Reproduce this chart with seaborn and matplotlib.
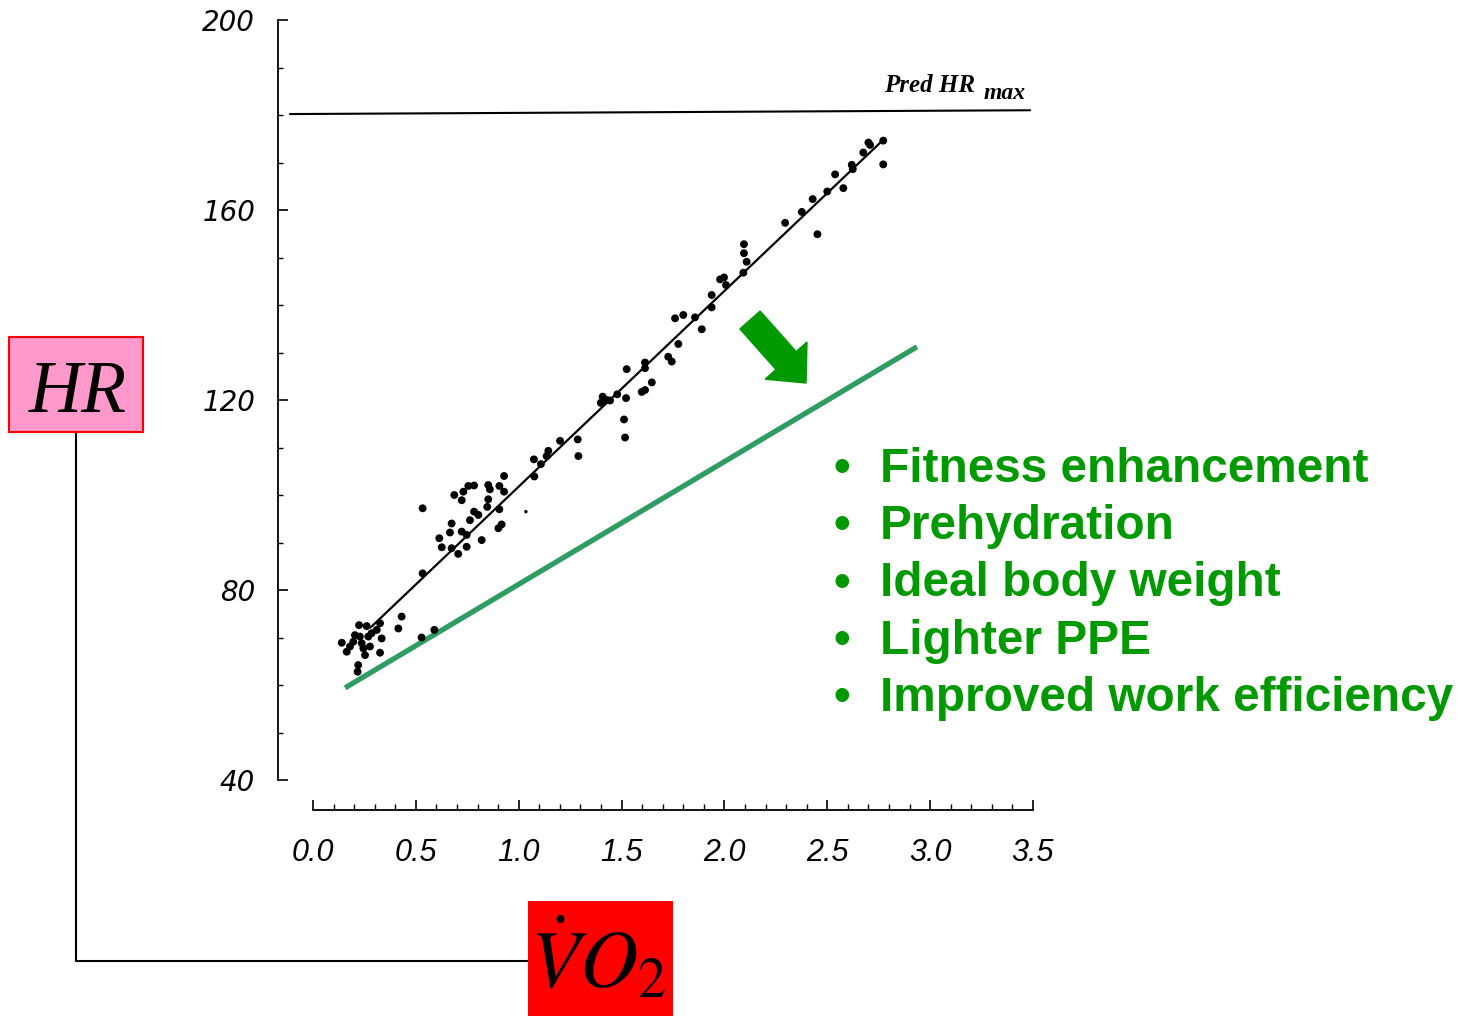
import matplotlib
matplotlib.use("Agg")
import matplotlib.pyplot as plt
from matplotlib.patches import Rectangle, FancyArrow
from matplotlib.lines import Line2D
from matplotlib.transforms import IdentityTransform
from matplotlib.ticker import FixedLocator
import seaborn as sns
import numpy as np
import pandas as pd

# VO2 (L/min) vs heart rate
vo2 = [0.14, 0.224, 0.261, 0.204, 0.228, 0.196, 0.18, 0.164, 0.237, 0.245, 0.277, 0.285,
       0.31, 0.326, 0.334, 0.269, 0.253, 0.326, 0.22, 0.217, 0.431, 0.415, 0.528, 0.59,
       0.533, 0.533, 0.614, 0.626, 0.674, 0.666, 0.674, 0.706, 0.687, 0.723, 0.731, 0.755,
       0.783, 0.723, 0.747, 0.747, 0.763, 0.783, 0.804, 0.82, 0.852, 0.86, 0.852, 0.847,
       0.906, 0.906, 0.929, 0.929, 0.901, 0.917,
       1.076, 1.074, 1.108, 1.136, 1.144, 1.201, 1.287, 1.29, 1.408, 1.399, 1.428, 1.444,
       1.479, 1.522, 1.512, 1.517, 1.525, 1.614, 1.614, 1.598, 1.614, 1.647, 1.727, 1.744, 1.776,
       1.76, 1.8, 1.857, 1.89, 1.938, 1.938, 1.979, 1.998, 2.008, 2.092, 2.108, 2.095, 2.095,
       2.295, 2.376, 2.429, 2.452, 2.5, 2.538, 2.578, 2.619, 2.624, 2.675, 2.7, 2.708, 2.772, 2.772]
hr = [68.9, 72.6, 72.4, 70.5, 70.2, 69.1, 68.1, 67.0, 68.8, 67.7, 68.1, 70.9,
      71.6, 73.0, 69.8, 70.2, 66.3, 66.8, 64.2, 62.8, 74.4, 71.9, 70.0, 71.6,
      97.2, 83.5, 90.9, 89.0, 94.0, 92.1, 88.8, 87.6, 100.0, 98.9, 100.7, 101.9,
      102.0, 92.3, 91.6, 89.1, 94.7, 96.5, 95.8, 90.5, 102.1, 101.2, 99.1, 97.5,
      97.0, 101.9, 104.0, 100.7, 93.0, 93.8,
      103.9, 107.5, 106.5, 108.2, 109.3, 111.4, 111.7, 108.2, 120.7, 119.4, 120.0, 119.9,
      121.2, 120.4, 115.9, 112.1, 126.5, 127.9, 126.7, 121.7, 122.1, 123.7, 129.1, 128.1, 131.8,
      137.2, 137.9, 137.4, 134.9, 142.1, 139.5, 145.4, 145.8, 144.2, 146.8, 149.1, 150.9, 152.8,
      157.3, 159.6, 162.3, 154.9, 163.9, 167.5, 164.6, 169.5, 168.6, 172.1, 174.2, 173.7, 174.6, 169.6]
stray_vo2 = [1.035]
stray_hr = [96.5]

fit_vo2 = [0.28, 2.78]
fit_hr = [72.1, 175.1]

pred_max_vo2 = [-0.112, 3.486]
pred_max_hr = [180.2, 181.0]

improved_vo2 = [0.156, 2.936]
improved_hr = [59.4, 131.2]

bullets = ["Fitness enhancement", "Prehydration", "Ideal body weight",
           "Lighter PPE", "Improved work efficiency"]

y_ticks = [40, 80, 120, 160, 200]
x_ticks = [0.0, 0.5, 1.0, 1.5, 2.0, 2.5, 3.0, 3.5]

df = pd.DataFrame({"vo2": vo2, "hr": hr})

sns.set_theme(style="ticks")
plt.rcParams["font.family"] = ["Liberation Sans", "DejaVu Sans"]
plt.rcParams["mathtext.fontset"] = "stix"
plt.rcParams["text.color"] = "black"
plt.rcParams["xtick.color"] = "black"
plt.rcParams["ytick.color"] = "black"

W, H = 1468, 1016
fig = plt.figure(figsize=(W / 100, H / 100), dpi=100)
fig.patch.set_facecolor("white")
ax = fig.add_axes([278 / W, 1 - 780 / H, (1040 - 278) / W, (780 - 20) / H])
ax.set_facecolor("white")

sns.scatterplot(data=df, x="vo2", y="hr", ax=ax, color="black", s=32,
                edgecolor="none", clip_on=False, zorder=3)
sns.scatterplot(x=stray_vo2, y=stray_hr, ax=ax, color="black", s=6,
                edgecolor="none", zorder=3)
sns.lineplot(x=fit_vo2, y=fit_hr, ax=ax, color="black", lw=1.6,
             sort=False, estimator=None, zorder=2)
sns.lineplot(x=pred_max_vo2, y=pred_max_hr, ax=ax, color="black", lw=1.5,
             sort=False, estimator=None, clip_on=False)
sns.lineplot(x=improved_vo2, y=improved_hr, ax=ax, color="#2E9C63", lw=3.8,
             sort=False, estimator=None, solid_capstyle="butt")

ax.text(2.776, 184.8, "Pred HR", fontfamily="Liberation Serif", style="italic",
        fontweight="bold", fontsize=18, va="baseline", color="black")
ax.text(3.262, 183.3, "max", fontfamily="Liberation Serif", style="italic",
        fontweight="bold", fontsize=17, va="baseline", color="black")

ax.set_xlim(-0.170, 3.534)
ax.set_ylim(40, 200)
ax.set_xlabel("")
ax.set_ylabel("")
for side in ["top", "right"]:
    ax.spines[side].set_visible(False)
ax.spines["left"].set_bounds(40, 200)
ax.spines["bottom"].set_position(("outward", 21.6))
ax.spines["bottom"].set_bounds(0, 3.5)
for side in ["left", "bottom"]:
    ax.spines[side].set_color("black")
    ax.spines[side].set_linewidth(1.3)

ax.set_yticks(y_ticks)
ax.set_yticklabels([str(v) for v in y_ticks], fontfamily="DejaVu Sans",
                   style="italic", fontsize=20, color="black")
ax.set_xticks(x_ticks)
ax.set_xticklabels([f"{v:.1f}" for v in x_ticks], fontfamily="Liberation Sans",
                   style="italic", fontsize=22, color="black")
ax.yaxis.set_minor_locator(FixedLocator(np.arange(50, 200, 10)))
ax.xaxis.set_minor_locator(FixedLocator(np.round(np.arange(0.1, 3.5, 0.1), 1)))
ax.tick_params(axis="y", which="major", direction="in", length=7, width=1.2,
               pad=16.5, colors="black")
ax.tick_params(axis="y", which="minor", direction="in", length=3.5, width=1)
ax.tick_params(axis="x", which="major", direction="in", length=7, width=1.2,
               pad=20, colors="black")
ax.tick_params(axis="x", which="minor", direction="in", length=4, width=1)

# annotations placed in pixel space
pix = IdentityTransform()


def py(y):
    return H - y


fig.add_artist(Line2D([76, 76, 528], [py(432), py(961), py(961)], color="black",
                      lw=1.5, transform=pix, zorder=1))
fig.add_artist(Rectangle((9, py(432)), 134, 95, facecolor="#FF99CC",
                         edgecolor="red", lw=1.5, transform=pix, zorder=2))
fig.text(78, py(412), "HR", fontfamily="Liberation Serif", style="italic",
         fontsize=53, ha="center", va="baseline", color="black",
         transform=pix, zorder=3)
fig.add_artist(Rectangle((528, 0), 145, 115, facecolor="red", edgecolor="none",
                         transform=pix, zorder=2))
fig.text(598, py(987), r"$\dot{V}O_2$", fontsize=58, ha="center",
         va="baseline", color="black", transform=pix, zorder=3)

fig.add_artist(FancyArrow(750, py(320), 56, -63, width=27, head_width=56,
                          head_length=30, length_includes_head=True,
                          color="#009900", transform=pix))

for i, item in enumerate(bullets):
    base = py(482 + 57.25 * i)
    fig.text(842, base, "\u2022", color="#009900", fontsize=34.4,
             fontweight="bold", ha="center", va="baseline", transform=pix)
    fig.text(880, base, item, color="#009900", fontsize=34.4,
             fontweight="bold", ha="left", va="baseline", transform=pix)

fig.savefig("out.png", dpi=100)
